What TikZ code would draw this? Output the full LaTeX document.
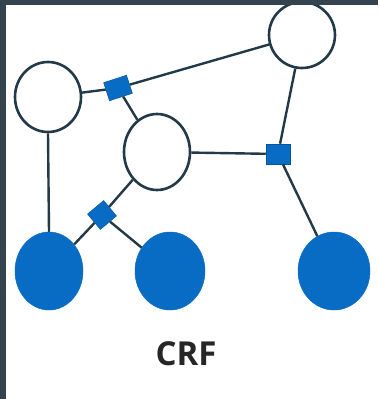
\documentclass[tikz,border=0pt]{standalone}
\usepackage{fontspec}
\setmainfont{Open Sans}
\usetikzlibrary{shapes.geometric}
\definecolor{nodeblue}{RGB}{8,108,196}
\definecolor{edgecol}{RGB}{34,58,72}
\definecolor{framecol}{RGB}{52,68,78}
\tikzset{
  hidden/.style={ellipse, draw=edgecol, line width=2.6pt, fill=white, inner sep=0pt},
  observed/.style={ellipse, fill=nodeblue, draw=nodeblue, line width=0.5pt, inner sep=0pt},
  factor/.style={rectangle, fill=nodeblue, draw=nodeblue!80!black, line width=0.5pt, inner sep=0pt, minimum width=22pt, minimum height=18pt},
  edge/.style={draw=edgecol, line width=2.4pt}
}
\begin{document}
\begin{tikzpicture}[x=1pt,y=-1pt]
\useasboundingbox (0,0) rectangle (378,399);
\fill[white] (0,0) rectangle (378,399);
\node[hidden, minimum width=66pt, minimum height=70pt] (tl) at (48,97) {};
\node[hidden, minimum width=66pt, minimum height=66pt] (tr) at (302,35) {};
\node[hidden, minimum width=66pt, minimum height=76pt] (m) at (157,152) {};
\node[observed, minimum width=68pt, minimum height=78pt] (bl) at (49,271) {};
\node[observed, minimum width=70pt, minimum height=78pt] (bm) at (170,271) {};
\node[observed, minimum width=72pt, minimum height=78pt] (br) at (334,271) {};
\node[factor, minimum width=24pt, minimum height=19pt, rotate=18] (f1) at (118,88) {};
\node[factor, minimum width=24pt, minimum height=20pt] (f2) at (278,154) {};
\node[factor, minimum width=21pt, minimum height=20pt, rotate=40] (f3) at (102,215) {};
\draw[edge] (tl) -- (f1);
\draw[edge] (f1) -- (tr);
\draw[edge] (f1) -- (m);
\draw[edge] (tl.south) -- (bl.north);
\draw[edge] (m) -- (f2);
\draw[edge] (tr) -- (f2);
\draw[edge] (f2) -- (br);
\draw[edge] (m) -- (f3);
\draw[edge] (f3) -- (bl);
\draw[edge] (f3) -- (bm);
\node[font=\fontsize{33}{36}\selectfont\bfseries, text=black!85] (lbl) at (186,354) {CRF};
\fill[framecol] (0,0) rectangle (5.5,399);
\fill[framecol] (0,0) rectangle (378,5);
\end{tikzpicture}
\end{document}
